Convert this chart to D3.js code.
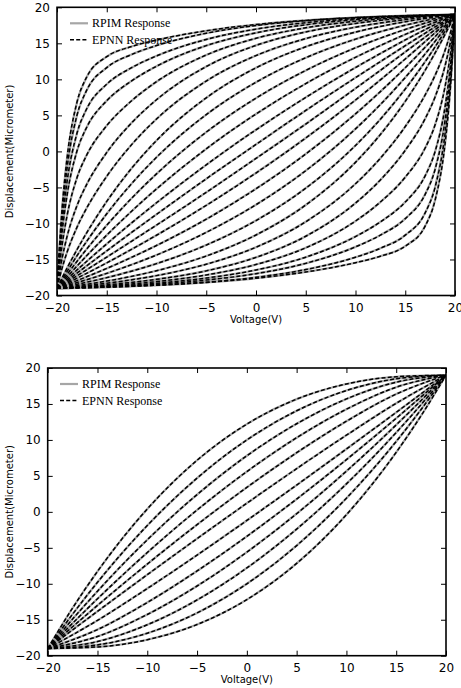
<!DOCTYPE html>
<html>
<head>
<meta charset="utf-8">
<script src="https://d3js.org/d3.v7.min.js"></script>
<style>
body{margin:0;background:#fff;}
svg{display:block;}
.tick text{font-family:"DejaVu Sans",sans-serif;font-size:12px;fill:#000;}
.tick line{stroke:#000;stroke-width:1;}
</style>
</head>
<body>
<script>
// top panel: upper branches sampled at voltTopUp, lower branches at voltTopDown
const voltTopUp = [-20,-19.5,-19,-18,-17,-15,-12.5,-10,-5,0,5,10,15,20];
const voltTopDown = [-20,-15,-10,-5,0,5,10,12.5,15,17,18,19,19.5,20];
const dispTopUp = [
  [-19,-18.47,-17.95,-16.90,-15.87,-13.80,-11.25,-8.74,-3.80,0.97,5.68,10.23,14.67,19],
  [-19,-18.36,-17.73,-16.47,-15.24,-12.83,-9.92,-7.13,-1.86,3.00,7.49,11.64,15.47,19],
  [-19,-18.21,-17.44,-15.93,-14.45,-11.62,-8.30,-5.21,0.36,5.19,9.41,13.06,16.24,19],
  [-19,-18.04,-17.10,-15.28,-13.53,-10.25,-6.50,-3.12,2.68,7.40,11.24,14.38,16.93,19],
  [-19,-17.83,-16.70,-14.51,-12.45,-8.66,-4.47,-0.82,5.11,9.60,13.00,15.58,17.52,19],
  [-19,-17.59,-16.23,-13.66,-11.26,-6.94,-2.34,1.52,7.44,11.60,14.52,16.56,18.00,19],
  [-19,-16.25,-14.03,-10.56,-7.83,-3.45,0.94,4.50,9.77,13.30,15.66,17.24,18.30,19],
  [-19,-14.93,-11.87,-7.56,-4.54,-0.15,3.96,7.17,11.78,14.71,16.58,17.76,18.52,19],
  [-19,-13.13,-8.99,-3.69,-0.47,3.58,7.03,9.67,13.38,15.70,17.15,18.07,18.64,19],
  [-19,-11.38,-6.18,0.02,3.39,7.03,9.78,11.82,14.68,16.46,17.58,18.29,18.73,19],
  [-19,-10.21,-4.31,2.49,5.96,9.33,11.62,13.25,15.54,16.97,17.86,18.43,18.78,19],
  [-19,-9.04,-2.45,4.97,8.53,11.63,13.45,14.69,16.40,17.48,18.15,18.57,18.84,19],
  [-19,-8.15,-1.04,6.78,10.36,13.15,14.55,15.45,16.74,17.61,18.18,18.57,18.83,19]
];
const dispTopDown = [
  [-19,-14.67,-10.23,-5.68,-0.97,3.80,8.74,11.25,13.80,15.87,16.90,17.95,18.47,19],
  [-19,-15.47,-11.64,-7.49,-3.00,1.86,7.13,9.92,12.83,15.24,16.47,17.73,18.36,19],
  [-19,-16.24,-13.06,-9.41,-5.19,-0.36,5.21,8.30,11.62,14.45,15.93,17.44,18.21,19],
  [-19,-16.93,-14.38,-11.24,-7.40,-2.68,3.12,6.50,10.25,13.53,15.28,17.10,18.04,19],
  [-19,-17.52,-15.58,-13.00,-9.60,-5.11,0.82,4.47,8.66,12.45,14.51,16.70,17.83,19],
  [-19,-18.00,-16.56,-14.52,-11.60,-7.44,-1.52,2.34,6.94,11.26,13.66,16.23,17.59,19],
  [-19,-18.30,-17.24,-15.66,-13.30,-9.77,-4.50,-0.94,3.45,7.83,10.56,14.03,16.25,19],
  [-19,-18.52,-17.76,-16.58,-14.71,-11.78,-7.17,-3.96,0.15,4.54,7.56,11.87,14.93,19],
  [-19,-18.64,-18.07,-17.15,-15.70,-13.38,-9.67,-7.03,-3.58,0.47,3.69,8.99,13.13,19],
  [-19,-18.73,-18.29,-17.58,-16.46,-14.68,-11.82,-9.78,-7.03,-3.39,-0.02,6.18,11.38,19],
  [-19,-18.78,-18.43,-17.86,-16.97,-15.54,-13.25,-11.62,-9.33,-5.96,-2.49,4.31,10.21,19],
  [-19,-18.84,-18.57,-18.15,-17.48,-16.40,-14.69,-13.45,-11.63,-8.53,-4.97,2.45,9.04,19],
  [-19,-18.83,-18.57,-18.18,-17.61,-16.74,-15.45,-14.55,-13.15,-10.36,-6.78,1.04,8.15,19]
];

// bottom panel
const voltBotUp = [-20,-17.5,-15,-12.5,-10,-5,0,5,10,15,20];
const voltBotDown = [-20,-15,-10,-5,0,5,10,12.5,15,17.5,20];
const dispBotUp = [
  [-19,-16.41,-13.83,-11.28,-8.74,-3.72,1.20,6.01,10.66,15.09,19],
  [-19,-15.98,-13.01,-10.10,-7.26,-1.78,3.40,8.22,12.60,16.37,19],
  [-19,-15.49,-12.09,-8.81,-5.66,0.26,5.60,10.31,14.27,17.33,19],
  [-19,-14.91,-11.03,-7.35,-3.89,2.40,7.80,12.25,15.70,18.03,19],
  [-19,-14.23,-9.79,-5.68,-1.90,4.69,10.00,14.05,16.87,18.50,19],
  [-19,-13.37,-8.28,-3.69,0.40,7.17,12.20,15.67,17.78,18.78,19]
];
const dispBotDown = [
  [-19,-15.09,-10.66,-6.01,-1.20,3.72,8.74,11.28,13.83,16.41,19],
  [-19,-16.37,-12.60,-8.22,-3.40,1.78,7.26,10.10,13.01,15.98,19],
  [-19,-17.33,-14.27,-10.31,-5.60,-0.26,5.66,8.81,12.09,15.49,19],
  [-19,-18.03,-15.70,-12.25,-7.80,-2.40,3.89,7.35,11.03,14.91,19],
  [-19,-18.50,-16.87,-14.05,-10.00,-4.69,1.90,5.68,9.79,14.23,19],
  [-19,-18.78,-17.78,-15.67,-12.20,-7.17,-0.40,3.69,8.28,13.37,19]
];

const xTicks = [-20,-15,-10,-5,0,5,10,15,20];
const yTicks = [-20,-15,-10,-5,0,5,10,15,20];
const seriesNames = ['RPIM Response','EPNN Response'];
const xLabel = 'Voltage(V)';
const yLabel = 'Displacement(Micrometer)';

const svg = d3.select('body').append('svg')
    .attr('width',461)
    .attr('height',688);

const panels = [
  {left:57, right:455, top:7.3, bottom:295.5, vUp:voltTopUp, vDown:voltTopDown, dUp:dispTopUp, dDown:dispTopDown, legX:70, legY:23.3},
  {left:47.7, right:446, top:368, bottom:655.7, vUp:voltBotUp, vDown:voltBotDown, dUp:dispBotUp, dDown:dispBotDown, legX:60, legY:384}
];

panels.forEach(p=>{
  const x = d3.scaleLinear().domain([-20,20]).range([p.left,p.right]);
  const y = d3.scaleLinear().domain([-20,20]).range([p.bottom,p.top]);
  const g = svg.append('g');

  const line = d3.line().x(d=>x(d[0])).y(d=>y(d[1])).curve(d3.curveMonotoneX);
  const branches = [];
  p.dUp.forEach(arr=>branches.push(p.vUp.map((v,i)=>[v,arr[i]])));
  p.dDown.forEach(arr=>branches.push(p.vDown.map((v,i)=>[v,arr[i]])));

  const clip = 'clip'+p.top;
  g.append('clipPath').attr('id',clip)
    .append('rect').attr('x',p.left).attr('y',p.top)
    .attr('width',p.right-p.left).attr('height',p.bottom-p.top);

  const curves = g.append('g').attr('clip-path','url(#'+clip+')');
  // RPIM (grey solid)
  curves.selectAll('path.rpim').data(branches).enter()
    .append('path').attr('class','rpim')
      .attr('d',line)
      .attr('fill','none')
      .attr('stroke','#a6a6a6')
      .attr('stroke-width',2.2);
  // EPNN (black dashed)
  curves.selectAll('path.epnn').data(branches).enter()
    .append('path').attr('class','epnn')
      .attr('d',line)
      .attr('fill','none')
      .attr('stroke','#000')
      .attr('stroke-width',1.5)
      .attr('stroke-dasharray','4,2.2');

  // axes, ticks pointing inwards on all four sides
  const fmt = d3.format('d');
  g.append('g').attr('transform',`translate(0,${p.bottom})`)
    .call(d3.axisBottom(x).tickValues(xTicks).tickSize(-5).tickPadding(8).tickFormat(fmt))
    .call(a=>a.select('.domain').remove());
  g.append('g').attr('transform',`translate(0,${p.top})`)
    .call(d3.axisTop(x).tickValues(xTicks).tickSize(-5).tickFormat(''))
    .call(a=>a.select('.domain').remove());
  g.append('g').attr('transform',`translate(${p.left},0)`)
    .call(d3.axisLeft(y).tickValues(yTicks).tickSize(-5).tickPadding(7).tickFormat(fmt))
    .call(a=>a.select('.domain').remove());
  g.append('g').attr('transform',`translate(${p.right},0)`)
    .call(d3.axisRight(y).tickValues(yTicks).tickSize(-5).tickFormat(''))
    .call(a=>a.select('.domain').remove());

  g.append('rect')
    .attr('x',p.left).attr('y',p.top)
    .attr('width',p.right-p.left).attr('height',p.bottom-p.top)
    .attr('fill','none').attr('stroke','#000').attr('stroke-width',1.6);

  g.append('text')
    .attr('x',(p.left+p.right)/2).attr('y',p.bottom+27.5)
    .attr('text-anchor','middle')
    .style('font-family','"DejaVu Sans",sans-serif').style('font-size','10px')
    .text(xLabel);
  g.append('text')
    .attr('transform',`translate(13,${(p.top+p.bottom)/2}) rotate(-90)`)
    .attr('text-anchor','middle')
    .style('font-family','"DejaVu Sans",sans-serif').style('font-size','10px')
    .text(yLabel);

  // legend
  const leg = g.append('g');
  seriesNames.forEach((name,i)=>{
    const ly = p.legY + i*16.5;
    leg.append('line')
      .attr('x1',p.legX).attr('x2',p.legX+18).attr('y1',ly).attr('y2',ly)
      .attr('stroke', i==0 ? '#a6a6a6' : '#000')
      .attr('stroke-width', i==0 ? 2.2 : 1.5)
      .attr('stroke-dasharray', i==0 ? null : '4,2.2');
    leg.append('text')
      .attr('x',p.legX+22).attr('y',ly)
      .attr('dominant-baseline','central')
      .style('font-family','"Liberation Serif",serif').style('font-size','12px')
      .text(name);
  });
});
</script>
</body>
</html>
